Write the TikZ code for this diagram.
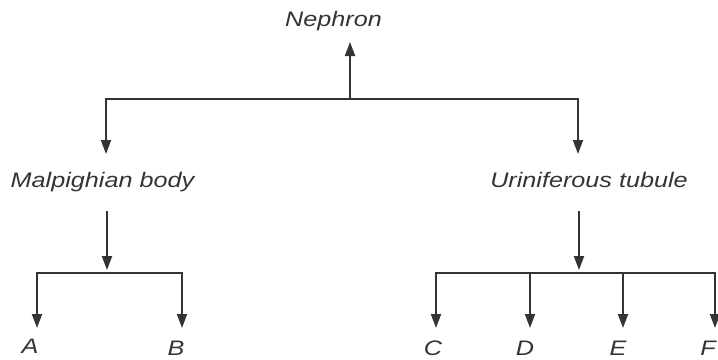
\documentclass[tikz,border=0pt]{standalone}
\usepackage{fontspec}
\newfontfamily\labfont{Liberation Sans}[FakeStretch=1.2]
\usetikzlibrary{arrows.meta}
\definecolor{ink}{HTML}{343436}
\tikzset{
  lab/.style={inner sep=0pt, anchor=base, text=ink, font=\labfont\itshape\fontsize{21}{24}\selectfont},
  bar/.style={draw=ink, line width=2pt, line cap=rect},
  arr/.style={draw=ink, line width=2pt, -{Triangle[length=14pt,width=10pt]}},
}
\begin{document}
\begin{tikzpicture}[x=1pt,y=-1pt]
\useasboundingbox (0,0) rectangle (718,359);
\clip (0,0) rectangle (718,359);
% labels
\node[lab] (neph) at (333.5,26) {Nephron};
\node[lab] (malp) at (102.5,187) {Malpighian body};
\node[lab] (urin) at (589,187) {Uriniferous tubule};
\node[lab] (A) at (30,353) {A};
\node[lab] (B) at (176,355) {B};
\node[lab] (C) at (433,355) {C};
\node[lab] (D) at (525,355) {D};
\node[lab] (E) at (618,355) {E};
\node[lab] (F) at (708,355) {F};
% junction coordinates
\coordinate (t1) at (106,98.5);
\coordinate (t2) at (578,98.5);
\coordinate (tm) at (350,98.5);
\coordinate (ntip) at (350,42);
\coordinate (mtip) at (106,154);
\coordinate (utip) at (578,154);
\coordinate (ms) at (107,211);
\coordinate (me) at (107,270);
\coordinate (m1) at (37,272.7);
\coordinate (m2) at (182,272.7);
\coordinate (us) at (579,211);
\coordinate (ue) at (579,270);
\coordinate (u1) at (436,272.7);
\coordinate (u2) at (530,272.7);
\coordinate (u3) at (623,272.7);
\coordinate (u4) at (715,272.7);
% top level
\draw[bar] (t1) -- (t2);
\draw[arr] (tm) -- (ntip);
\draw[arr] (t1) -- (mtip);
\draw[arr] (t2) -- (utip);
% Malpighian body
\draw[arr] (ms) -- (me);
\draw[bar] (m1) -- (m2);
\draw[arr] (m1) -- (m1 |- 0,328);
\draw[arr] (m2) -- (m2 |- 0,328);
% Uriniferous tubule
\draw[arr] (us) -- (ue);
\draw[bar] (u1) -- (u4);
\draw[arr] (u1) -- (u1 |- 0,328);
\draw[arr] (u2) -- (u2 |- 0,328);
\draw[arr] (u3) -- (u3 |- 0,328);
\draw[arr] (u4) -- (u4 |- 0,328);
\end{tikzpicture}
\end{document}
